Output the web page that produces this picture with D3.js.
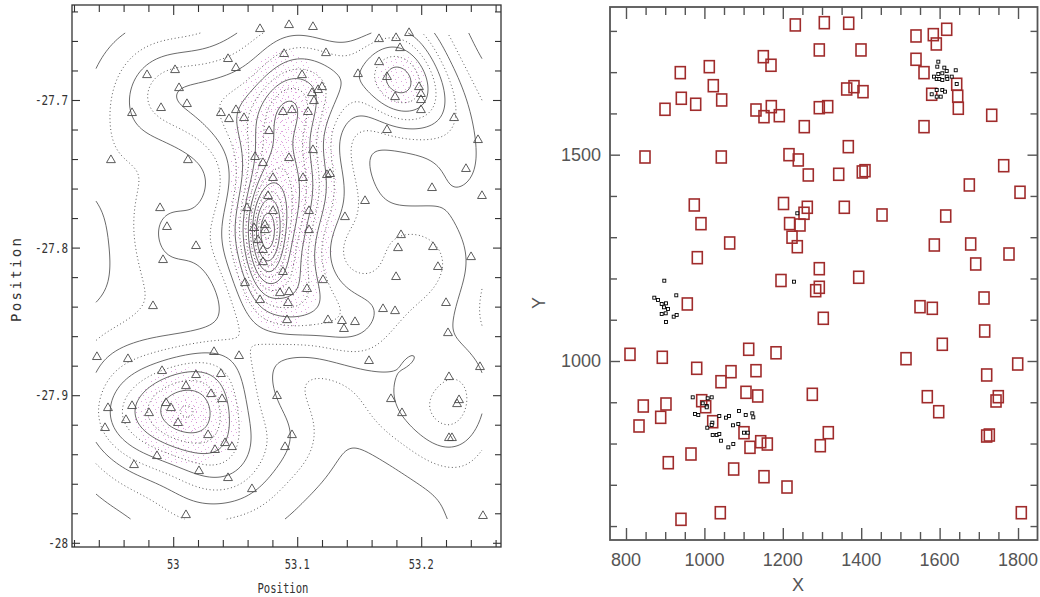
<!DOCTYPE html>
<html>
<head>
<meta charset="utf-8">
<script src="https://cdn.jsdelivr.net/npm/d3@7"></script>
<style>
  body { margin: 0; background: #fff; }
  svg { display: block; }
</style>
</head>
<body>
<svg id="chart" width="1040" height="597"></svg>
<script>
// ---------------- Left panel: sky map ----------------
// Field galaxies (triangles), RA / Dec in degrees
const triRA = [53.0700,53.0934,53.0894,53.0442,53.0506,52.9789,53.0015,53.0047,53.0111,52.9902,
  52.9668,53.0385,53.0450,53.0506,53.0571,53.0885,53.0958,53.0773,52.9498,53.0119,
  53.0660,53.0724,53.0934,53.0805,53.0765,53.0595,53.0805,52.9894,52.9950,53.0184,
  52.9918,53.0652,53.0740,53.0740,53.0684,53.0724,53.0724,53.0885,53.0579,53.0861,
  53.0934,53.1127,53.1232,53.1660,53.1797,53.1902,53.1829,53.1660,53.1490,53.1724,
  53.1982,53.1998,53.1998,53.1998,53.1789,53.1039,53.1119,53.1200,53.1168,53.1135,
  53.1087,53.2265,53.2458,53.1724,53.2361,53.2087,53.2490,53.1127,53.1047,53.1240,
  53.1265,53.1547,53.1385,53.1095,53.1095,53.1837,53.1813,53.2095,53.2402,53.2135,
  53.1797,53.1208,53.1079,52.9837,52.9385,52.9635,52.9910,53.0184,53.0329,53.0531,
  53.0385,53.0103,53.0305,53.0394,52.9942,52.9982,52.9668,52.9805,52.9474,52.9619,
  52.9450,53.0039,53.0281,53.0418,53.0474,53.0337,52.9869,52.9684,53.0208,53.0442,
  53.0635,53.0103,53.0837,53.0902,53.0958,53.0700,53.0926,53.0918,53.1248,53.1361,
  53.1377,53.1466,53.1692,53.1789,53.2200,53.2216,53.2474,53.1579,53.1756,53.1845,
  53.2224,53.2305,53.2289,53.2224,53.2248,53.2498];
const triDec = [-27.6519,-27.6492,-27.6688,-27.6722,-27.6783,-27.6831,-27.6797,-27.6919,-27.7027,-27.7054,
  -27.7088,-27.7088,-27.7129,-27.7068,-27.7122,-27.7081,-27.7068,-27.7210,-27.7407,-27.7407,
  -27.7386,-27.7427,-27.7393,-27.7528,-27.7650,-27.7732,-27.7752,-27.7732,-27.7860,-27.7989,
  -27.8084,-27.7867,-27.7881,-27.7847,-27.7949,-27.8016,-27.8098,-27.8165,-27.8240,-27.8308,
  -27.8301,-27.6505,-27.6682,-27.6587,-27.6580,-27.6546,-27.6648,-27.6743,-27.6824,-27.6844,
  -27.6912,-27.6959,-27.7000,-27.7068,-27.6980,-27.6831,-27.6953,-27.6912,-27.6932,-27.7007,
  -27.7081,-27.7122,-27.7271,-27.7203,-27.7467,-27.7596,-27.7650,-27.7339,-27.7528,-27.7508,
  -27.7501,-27.7684,-27.7793,-27.7752,-27.7881,-27.7915,-27.8003,-27.7996,-27.8064,-27.8131,
  -27.8199,-27.8220,-27.8280,-27.8396,-27.8741,-27.8755,-27.8836,-27.8863,-27.8707,-27.8734,
  -27.8856,-27.8938,-27.8992,-27.9026,-27.9053,-27.9087,-27.9073,-27.9121,-27.9087,-27.9168,
  -27.9222,-27.9188,-27.9270,-27.9324,-27.9351,-27.9371,-27.9412,-27.9473,-27.9514,-27.9561,
  -27.9636,-27.9812,-27.9005,-27.9351,-27.9270,-27.8355,-27.8375,-27.8491,-27.8491,-27.8497,
  -27.8551,-27.8504,-27.8416,-27.8430,-27.8375,-27.8579,-27.8809,-27.8768,-27.9026,-27.9121,
  -27.8877,-27.9033,-27.9060,-27.9290,-27.9290,-27.9818];

// Concentrations of the cluster members (elliptical gaussian components);
// clumpMember marks the components that carry the stippled member galaxies
const clumpRA     = [53.0748, 53.0885, 53.0902, 53.0119, 53.1829, 53.1829];
const clumpDec    = [-27.7915, -27.7644, -27.7034, -27.9141, -27.6864, -27.6898];
const clumpSigRA  = [0.0089, 0.0210, 0.0161, 0.0242, 0.0145, 0.0258];
const clumpSigDec = [0.0203, 0.0440, 0.0169, 0.0183, 0.0122, 0.0217];
const clumpAmp    = [8, 5, 2, 3, 1.5, 1.6];
const clumpMember = [1, 1, 1, 1, 1, 0];

const leftXTicks = [53, 53.1, 53.2];
const leftYTicks = [-27.7, -27.8, -27.9, -28];
const leftXTickLabels = ["53", "53.1", "53.2"];
const leftYTickLabels = ["-27.7", "-27.8", "-27.9", "-28"];

// smoothing kernel and contour spacing
const KDE_H_RA = 0.0254, KDE_H_DEC = 0.0213;
const LEVEL_BASE = 0.6, LEVEL_STEP = 1.2;
const MEMBER_LEVELS = [0.6, 2.5];

// ---------------- Right panel: detector frame ----------------
const boxX = [938.5,1012.5,1022.7,941.1,977.8,1044.1,899.5,1150.3,1169.9,1131.6,
  1152.0,1170.7,1191.1,848.5,1043.1,1215.8,974.2,991.3,1064.5,981.9,
  1201.8,1217.3,1223.5,1195.4,956.4,1182.7,810.2,892.6,980.4,1042.3,
  1067.9,1113.0,1131.6,1182.7,1106.1,1136.0,844.1,902.0,888.5,833.2,
  993.1,1003.3,1021.2,1101.0,1116.3,1143.6,1160.5,965.8,907.9,1074.7,
  1152.0,1210.7,940.3,1040.6,1231.9,1305.9,1368.1,1293.1,1399.5,1539.8,
  1583.9,1591.6,1618.1,1539.8,1560.2,1643.6,1646.2,1647.7,1579.8,1560.2,
  1732.9,1363.0,1381.6,1404.6,1293.1,1314.5,1254.8,1367.1,1239.5,1265.0,
  1342.6,1402.8,1409.7,1763.5,1675.8,1805.1,1262.5,1254.1,1243.9,1237.0,
  1356.9,1453.1,1615.6,1586.5,1679.3,1692.1,1777.0,1293.1,1393.6,1293.1,
  1283.9,1713.3,1303.3,1275.3,1316.1,1295.7,1550.0,1581.4,1715.0,1606.9,
  1514.3,1799.2,1720.1,1568.6,1597.7,1749.7,1743.9,1720.1,1726.8,1808.4];
const boxY = [1698.8,1713.3,1667.2,1636.7,1622.2,1632.6,1610.0,1737.5,1716.7,1608.3,
  1592.1,1616.4,1594.5,1494.4,1494.4,1500.0,1378.1,1332.8,1286.0,1250.4,
  1381.7,1333.0,1300.1,1195.1,1138.2,1875.0,1016.2,1009.0,982.3,949.8,
  974.1,1028.4,976.5,1019.9,924.1,915.2,890.9,895.8,863.5,842.5,
  903.8,889.2,852.9,826.2,790.8,804.4,798.8,774.6,753.5,738.2,
  719.6,694.6,616.3,632.3,1814.4,1819.9,1818.5,1753.8,1753.8,1787.7,
  1790.9,1768.3,1803.9,1731.2,1698.8,1670.6,1641.6,1612.5,1646.4,1567.9,
  1595.5,1659.2,1664.8,1652.7,1613.9,1616.4,1567.9,1519.4,1487.2,1450.8,
  1452.5,1458.1,1461.2,1473.3,1426.6,1408.9,1372.5,1358.0,1329.6,1277.0,
  1372.5,1353.9,1351.4,1281.1,1283.6,1235.1,1259.3,1223.7,1202.9,1178.6,
  1170.4,1152.7,1103.5,919.3,826.2,794.7,1131.6,1127.7,1072.7,1040.5,
  1005.6,992.7,966.1,913.5,877.1,913.5,903.1,818.2,820.6,632.3];

const dotX = [897.7,872.2,928.3,891.1,902.0,896.9,891.1,901.3,921.7,929.3,902.0,881.6,907.1,
  970.2,976.0,984.4,1005.9,1008.4,1018.6,995.7,1005.9,1020.2,1018.6,1007.4,1038.0,1055.1,1062.8,
  1088.3,1105.4,1122.2,1124.7,1073.0,1086.5,1021.2,1031.4,1038.0,1042.3,1061.0,1073.7,1101.0,1110.5,
  1596.7,1594.1,1612.0,1641.1,1618.1,1606.9,1596.7,1585.7,1592.6,1599.2,1606.9,1618.1,1619.6,1630.9,
  1643.6,1579.8,1592.6,1606.9,1613.8,1592.6,1602.8,
  1237.0,1228.6];
const dotY = [1194.6,1153.4,1159.2,1138.2,1139.8,1130.2,1113.9,1115.6,1107.4,1111.5,1094.5,1147.8,1126.0,
  912.0,871.5,869.1,890.9,909.6,912.0,897.5,887.8,850.5,844.9,838.3,866.7,862.6,866.7,
  878.8,869.1,873.2,863.5,844.2,847.3,820.6,820.6,823.1,806.8,790.8,798.8,826.2,826.2,
  1725.4,1713.3,1710.9,1704.6,1702.9,1697.3,1695.6,1689.1,1683.5,1683.5,1681.1,1689.1,1683.5,1689.1,
  1671.4,1646.4,1656.8,1656.8,1652.7,1640.6,1640.6,
  1358.0,1192.2];

const rightXTicks = [800, 1000, 1200, 1400, 1600, 1800];
const rightYTicks = [1000, 1500];

// ---------------- drawing ----------------
const svg = d3.select("#chart");
const defs = svg.append("defs");

const xL = d3.scaleLinear().domain([52.91839, 53.26435]).range([72, 501]);
const yL = d3.scaleLinear().domain([-27.63564, -28.00285]).range([5, 547]);
const xR = d3.scaleLinear().domain([759.2, 1849.7]).range([610, 1037.5]);
const yR = d3.scaleLinear().domain([1857.9, 566.2]).range([7, 540]);

// stipple textures for the member galaxies
function stipple(id, size, pts, color) {
  const p = defs.append("pattern").attr("id", id).attr("patternUnits", "userSpaceOnUse")
    .attr("width", size).attr("height", size);
  pts.forEach(d => p.append("rect").attr("x", d[0]).attr("y", d[1]).attr("width", 1).attr("height", 1)
    .attr("fill", color).attr("fill-opacity", 0.7));
}
stipple("memberSparse", 10, [[1,1],[6,2],[8,7],[3,5],[5,9]], "#d27ad2");
stipple("memberDense", 11, [[2,8],[9,4],[5,1],[7,10]], "#d27ad2");

// density field on a grid
function memberField(ra, dec, membersOnly) {
  let s = 0;
  for (let k = 0; k < clumpRA.length; k++) {
    if (membersOnly && !clumpMember[k]) continue;
    const dx = (ra - clumpRA[k]) / clumpSigRA[k], dy = (dec - clumpDec[k]) / clumpSigDec[k];
    s += clumpAmp[k] * Math.exp(-0.5 * (dx * dx + dy * dy));
  }
  return s;
}
function galaxyField(ra, dec) {
  let s = 0;
  for (let k = 0; k < triRA.length; k++) {
    const dx = (ra - triRA[k]) / KDE_H_RA, dy = (dec - triDec[k]) / KDE_H_DEC;
    s += Math.exp(-0.5 * (dx * dx + dy * dy));
  }
  return s;
}

const G = { x0: 95, x1: 483, y0: 32, y1: 520, cell: 2 };
const nx = Math.round((G.x1 - G.x0) / G.cell), ny = Math.round((G.y1 - G.y0) / G.cell);
const dens = new Float64Array(nx * ny), memb = new Float64Array(nx * ny);
for (let j = 0; j < ny; j++) {
  for (let i = 0; i < nx; i++) {
    const ra = xL.invert(G.x0 + (i + 0.5) * G.cell), dec = yL.invert(G.y0 + (j + 0.5) * G.cell);
    memb[j * nx + i] = memberField(ra, dec, true);
    dens[j * nx + i] = memberField(ra, dec, false) + galaxyField(ra, dec);
  }
}
const levels = d3.range(LEVEL_BASE, d3.max(dens), LEVEL_STEP);

const gridPath = d3.geoPath(d3.geoIdentity().scale(G.cell).translate([G.x0, G.y0]));
const gLeft = svg.append("g");

// member stipple
const memberBands = d3.contours().size([nx, ny]).thresholds(MEMBER_LEVELS)(memb);
gLeft.append("path").attr("d", gridPath(memberBands[0])).attr("fill", "url(#memberSparse)");
gLeft.append("path").attr("d", gridPath(memberBands[1])).attr("fill", "url(#memberDense)");

// iso-density lines, left open where they meet the grid border
const onEdge = p => p[0] <= 0 || p[0] >= nx || p[1] <= 0 || p[1] >= ny;
const toPx = p => [G.x0 + p[0] * G.cell, G.y0 + p[1] * G.cell];
function ringPieces(ring) {
  const pts = ring.slice(0, -1);
  const k = pts.findIndex(onEdge);
  if (k < 0) return [ring.map(toPx)];
  const rot = pts.slice(k).concat(pts.slice(0, k + 1));
  const out = []; let cur = [];
  rot.forEach(p => {
    if (onEdge(p)) { if (cur.length > 1) out.push(cur); cur = []; }
    else cur.push(toPx(p));
  });
  if (cur.length > 1) out.push(cur);
  return out;
}
const line = d3.line();
const isoLines = d3.contours().size([nx, ny]).thresholds(levels)(dens);
isoLines.forEach((c, idx) => {
  const pieces = [];
  c.coordinates.forEach(poly => poly.forEach(ring => pieces.push(...ringPieces(ring))));
  gLeft.append("path")
    .attr("d", pieces.map(pc => line(pc)).join(""))
    .attr("fill", "none")
    .attr("stroke", "#5a5a5a")
    .attr("stroke-width", idx % 2 === 0 ? 0.9 : 1)
    .attr("stroke-dasharray", idx % 2 === 0 ? null : "1,2.6");
});

// galaxies
const tri = d3.symbol().type(d3.symbolTriangle).size(34);
gLeft.append("g").selectAll("path").data(d3.range(triRA.length)).join("path")
  .attr("d", tri)
  .attr("transform", i => `translate(${xL(triRA[i])},${yL(triDec[i])})`)
  .attr("fill", "none").attr("stroke", "#4a4a4a").attr("stroke-width", 0.9);

// left frame and ticks
const leftMinorX = d3.range(52.92, 53.27, 0.02).map(v => +v.toFixed(2)).filter(v => !leftXTicks.includes(v));
const leftMinorY = d3.range(-27.64, -28.01, -0.02).map(v => +v.toFixed(2)).filter(v => !leftYTicks.includes(v));
function styleAxis(g) { g.select(".domain").remove(); g.selectAll("line").attr("stroke", "#333").attr("stroke-width", 1.1); }
const [lx0, lx1] = xL.range(), [ly0, ly1] = yL.range();
gLeft.append("g").attr("transform", `translate(0,${ly1})`).call(d3.axisBottom(xL).tickValues(leftMinorX).tickSize(-7).tickFormat("")).call(styleAxis);
gLeft.append("g").attr("transform", `translate(0,${ly1})`).call(d3.axisBottom(xL).tickValues(leftXTicks).tickSize(-10).tickFormat("")).call(styleAxis);
gLeft.append("g").attr("transform", `translate(0,${ly0})`).call(d3.axisTop(xL).tickValues(leftMinorX).tickSize(-7).tickFormat("")).call(styleAxis);
gLeft.append("g").attr("transform", `translate(0,${ly0})`).call(d3.axisTop(xL).tickValues(leftXTicks).tickSize(-10).tickFormat("")).call(styleAxis);
gLeft.append("g").attr("transform", `translate(${lx0},0)`).call(d3.axisLeft(yL).tickValues(leftMinorY).tickSize(-6).tickFormat("")).call(styleAxis);
gLeft.append("g").attr("transform", `translate(${lx0},0)`).call(d3.axisLeft(yL).tickValues(leftYTicks).tickSize(-8).tickFormat("")).call(styleAxis);
gLeft.append("g").attr("transform", `translate(${lx1},0)`).call(d3.axisRight(yL).tickValues(leftMinorY).tickSize(-6).tickFormat("")).call(styleAxis);
gLeft.append("g").attr("transform", `translate(${lx1},0)`).call(d3.axisRight(yL).tickValues(leftYTicks).tickSize(-8).tickFormat("")).call(styleAxis);
gLeft.append("rect").attr("x", lx0).attr("y", ly0).attr("width", lx1 - lx0).attr("height", ly1 - ly0)
  .attr("fill", "none").attr("stroke", "#333").attr("stroke-width", 1.3);

const monoFont = "'DejaVu Sans Mono', monospace";
gLeft.append("g").selectAll("text").data(leftXTicks).join("text")
  .attr("x", d => xL(d)).attr("y", 569).attr("text-anchor", "middle")
  .attr("font-family", monoFont).attr("font-size", 14).attr("fill", "#333")
  .attr("textLength", (d, i) => leftXTickLabels[i].length * 6.2).attr("lengthAdjust", "spacingAndGlyphs")
  .text((d, i) => leftXTickLabels[i]);
gLeft.append("g").selectAll("text").data(leftYTicks).join("text")
  .attr("x", 68).attr("y", d => yL(d)).attr("dy", "0.36em").attr("text-anchor", "end")
  .attr("font-family", monoFont).attr("font-size", 14).attr("fill", "#333")
  .attr("textLength", (d, i) => leftYTickLabels[i].length * 6.6).attr("lengthAdjust", "spacingAndGlyphs")
  .text((d, i) => leftYTickLabels[i]);
gLeft.append("text").attr("x", 283).attr("y", 593).attr("text-anchor", "middle")
  .attr("font-family", monoFont).attr("font-size", 14.5).attr("fill", "#333")
  .attr("textLength", 51).attr("lengthAdjust", "spacingAndGlyphs").text("Position");
gLeft.append("text").attr("transform", "translate(16,280) rotate(-90)").attr("dy", "0.36em")
  .attr("text-anchor", "middle").attr("font-family", monoFont).attr("font-size", 14).attr("fill", "#333")
  .attr("textLength", 84).attr("lengthAdjust", "spacing").text("Position");

// ---------------- right panel ----------------
const gRight = svg.append("g");
const [rx0, rx1] = xR.range(), [ry0, ry1] = yR.range();
defs.append("clipPath").attr("id", "rightClip").append("rect")
  .attr("x", rx0).attr("y", ry0).attr("width", rx1 - rx0).attr("height", ry1 - ry0);

const marks = gRight.append("g").attr("clip-path", "url(#rightClip)");
marks.selectAll("rect.box").data(d3.range(boxX.length)).join("rect").attr("class", "box")
  .attr("x", i => xR(boxX[i]) - 5).attr("y", i => yR(boxY[i]) - 6)
  .attr("width", 10).attr("height", 12)
  .attr("fill", "none").attr("stroke", "#a02c2c").attr("stroke-width", 1.6);
marks.selectAll("rect.dot").data(d3.range(dotX.length)).join("rect").attr("class", "dot")
  .attr("x", i => xR(dotX[i]) - 1.5).attr("y", i => yR(dotY[i]) - 1.5)
  .attr("width", 3).attr("height", 3)
  .attr("fill", "#fff").attr("stroke", "#000").attr("stroke-width", 0.9);

const rightMinorX = d3.range(800, 1850, 50).filter(v => !rightXTicks.includes(v));
const rightMinorY = d3.range(600, 1858, 100).filter(v => !rightYTicks.includes(v));
function styleAxisR(g) { g.select(".domain").remove(); g.selectAll("line").attr("stroke", "#555").attr("stroke-width", 1.4); }
gRight.append("g").attr("transform", `translate(0,${ry1})`).call(d3.axisBottom(xR).tickValues(rightMinorX).tickSize(-8).tickFormat("")).call(styleAxisR);
gRight.append("g").attr("transform", `translate(0,${ry1})`).call(d3.axisBottom(xR).tickValues(rightXTicks).tickSize(-12).tickFormat("")).call(styleAxisR);
gRight.append("g").attr("transform", `translate(0,${ry0})`).call(d3.axisTop(xR).tickValues(rightMinorX).tickSize(-8).tickFormat("")).call(styleAxisR);
gRight.append("g").attr("transform", `translate(0,${ry0})`).call(d3.axisTop(xR).tickValues(rightXTicks).tickSize(-12).tickFormat("")).call(styleAxisR);
gRight.append("g").attr("transform", `translate(${rx0},0)`).call(d3.axisLeft(yR).tickValues(rightMinorY).tickSize(-7).tickFormat("")).call(styleAxisR);
gRight.append("g").attr("transform", `translate(${rx0},0)`).call(d3.axisLeft(yR).tickValues(rightYTicks).tickSize(-10).tickFormat("")).call(styleAxisR);
gRight.append("g").attr("transform", `translate(${rx1},0)`).call(d3.axisRight(yR).tickValues(rightMinorY).tickSize(-7).tickFormat("")).call(styleAxisR);
gRight.append("g").attr("transform", `translate(${rx1},0)`).call(d3.axisRight(yR).tickValues(rightYTicks).tickSize(-10).tickFormat("")).call(styleAxisR);
gRight.append("rect").attr("x", rx0).attr("y", ry0).attr("width", rx1 - rx0).attr("height", ry1 - ry0)
  .attr("fill", "none").attr("stroke", "#555").attr("stroke-width", 1.8);

const sansFont = "'Liberation Sans', Arial, sans-serif";
gRight.append("g").selectAll("text").data(rightXTicks).join("text")
  .attr("x", d => xR(d)).attr("y", 566).attr("text-anchor", "middle")
  .attr("font-family", sansFont).attr("font-size", 18).attr("fill", "#555").text(d => d);
gRight.append("g").selectAll("text").data(rightYTicks).join("text")
  .attr("x", 601).attr("y", d => yR(d)).attr("dy", "0.36em").attr("text-anchor", "end")
  .attr("font-family", sansFont).attr("font-size", 18).attr("fill", "#555").text(d => d);
gRight.append("text").attr("x", 798).attr("y", 591).attr("text-anchor", "middle")
  .attr("font-family", sansFont).attr("font-size", 18).attr("fill", "#555").text("X");
gRight.append("text").attr("transform", "translate(539,303) rotate(-90)").attr("dy", "0.36em")
  .attr("text-anchor", "middle").attr("font-family", sansFont).attr("font-size", 18).attr("fill", "#555").text("Y");
</script>
</body>
</html>
